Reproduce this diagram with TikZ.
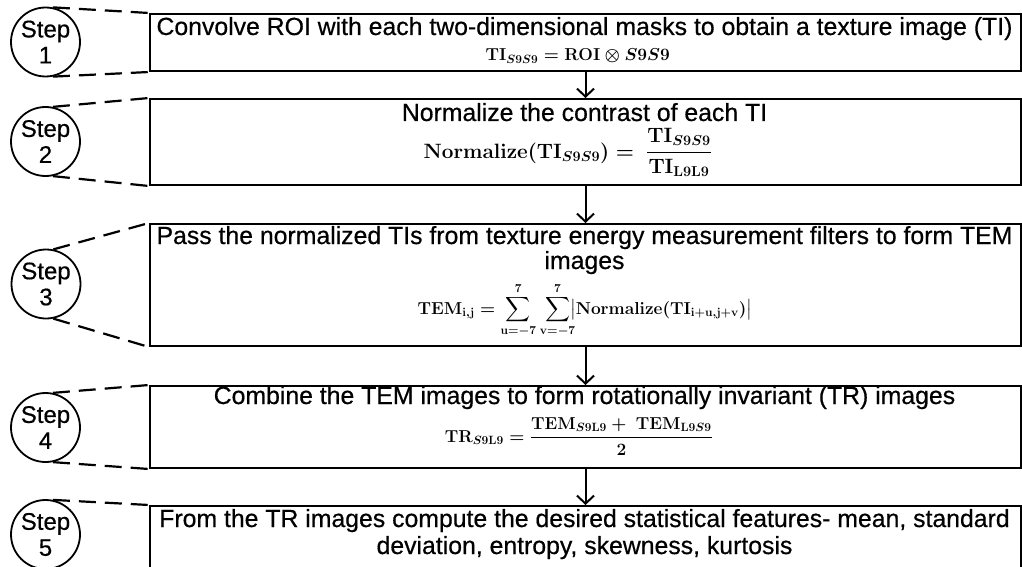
\documentclass[tikz,border=0pt]{standalone}
\usepackage[no-math]{fontspec}
\setmainfont{Liberation Sans}[FakeBold=0.5]
\usepackage{amsmath}
\usepackage{mathtools}
\usetikzlibrary{arrows.meta}
\begin{document}
\begin{tikzpicture}[x=1pt,y=-1pt,
  stepbox/.style={draw,line width=2pt,minimum width=871pt,anchor=north west,inner sep=0pt},
  stepring/.style={circle,draw,line width=1.8pt,minimum size=69pt,inner sep=0pt,align=center,
    font=\fontsize{24}{26}\selectfont},
  head/.style={anchor=base,inner sep=0pt,font=\fontsize{24.8}{27}\selectfont},
  eqn/.style={inner sep=0pt,font=\fontsize{18.5}{21}\selectfont\boldmath},
  flow/.style={line width=2pt,-{Straight Barb[length=8pt,width=17pt,line width=2pt]}},
  link/.style={line width=2.2pt,dash pattern=on 17pt off 9pt}]
  \useasboundingbox (0,0) rectangle (1022,567);
  \clip (0,0) rectangle (1022,567);
  \fill[white] (0,0) rectangle (1022,567);

  % process boxes
  \node[stepbox,minimum height=57pt]  (b1) at (149,13)  {};
  \node[stepbox,minimum height=86pt]  (b2) at (149,98)  {};
  \node[stepbox,minimum height=122pt] (b3) at (149,223) {};
  \node[stepbox,minimum height=82pt]  (b4) at (149,385) {};
  \node[stepbox,minimum height=62pt]  (b5) at (149,505) {};

  % step markers
  \node[stepring] (c1) at (45.5,42)    {Step\\1};
  \node[stepring] (c2) at (45.5,141.5) {Step\\2};
  \node[stepring] (c3) at (46,284)     {Step\\3};
  \node[stepring] (c4) at (45.5,427.5) {Step\\4};
  \node[stepring] (c5) at (45.5,534.5) {Step\\5};

  % dashed leaders from each marker to its box
  \foreach \i in {1,...,5}{
    \draw[link] (c\i.78)  -- (b\i.north west);
    \draw[link] (c\i.-78) -- (b\i.south west);
  }

  % flow between steps
  \draw[flow] (b1.south) -- (b2.north);
  \draw[flow] (b2.south) -- (b3.north);
  \draw[flow] (b3.south) -- (b4.north);
  \draw[flow] (b4.south) -- (b5.north);

  % step 1
  \node[head] (t1) at (584.5,35) {Convolve ROI with each two-dimensional masks to obtain a texture image (TI)};
  \node[eqn,anchor=base east] (e1) at (670,61)
    {$\mathbf{TI}_{S9S9} = \mathbf{ROI}\otimes S9S9$};

  % step 2
  \node[head] (t2) at (584.5,121) {Normalize the contrast of each TI};
  \node[eqn,anchor=base east,font=\fontsize{20.5}{23}\selectfont\boldmath] (e2) at (712,158)
    {$\mathbf{Normalize}(\mathbf{TI}_{S9S9}) =\ \dfrac{\mathbf{TI}_{S9S9}}{\mathbf{TI}_{\mathbf{L9L9}}}$};

  % step 3
  \node[head] (t3a) at (584.5,244) {Pass the normalized TIs from texture energy measurement filters to form TEM};
  \node[head] (t3b) at (584.5,269) {images};
  \node[eqn,anchor=base,font=\fontsize{18}{21}\selectfont\boldmath] (e3) at (585,314)
    {$\mathbf{TEM}_{\mathbf{i,j}} =\ \displaystyle\sum_{\mathclap{\mathbf{u}=-7}}^{7}\;\;\sum_{\mathclap{\mathbf{v}=-7}}^{7}\bigl|\mathbf{Normalize}(\mathbf{TI}_{\mathbf{i+u,j+v}})\bigr|$};

  % step 4
  \node[head] (t4) at (584.5,404) {Combine the TEM images to form rotationally invariant (TR) images};
  \node[eqn,anchor=base east,font=\fontsize{17.5}{21}\selectfont\boldmath] (e4) at (713,442)
    {$\mathbf{TR}_{S9\mathbf{L9}} = \dfrac{\mathbf{TEM}_{S9\mathbf{L9}} +\ \mathbf{TEM}_{\mathbf{L9}S9}}{\mathbf{2}}$};

  % step 5
  \node[head] (t5a) at (584.5,527) {From the TR images compute the desired statistical features- mean, standard};
  \node[head] (t5b) at (584.5,554) {deviation, entropy, skewness, kurtosis};
\end{tikzpicture}
\end{document}
